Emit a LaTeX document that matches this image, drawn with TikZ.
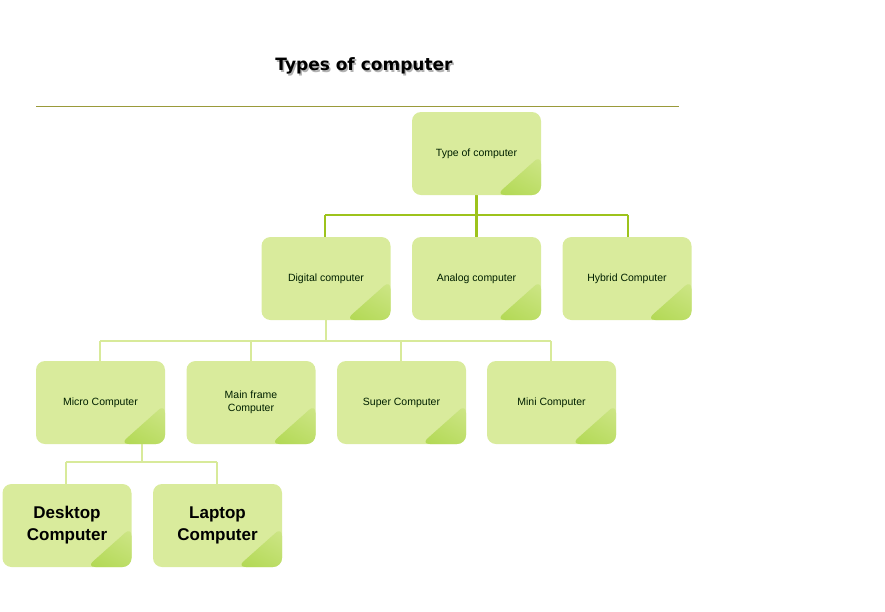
\documentclass[tikz,border=0pt]{standalone}
\usepackage{fontspec}
\setmainfont{Liberation Sans}
\newfontfamily\titlefont{DejaVu Sans}
\definecolor{boxfill}{HTML}{D9EB9C}
\definecolor{boxdark}{HTML}{A4D23A}
\definecolor{busdark}{HTML}{9DC31C}
\definecolor{buslight}{HTML}{D8EA9A}
\definecolor{rulecol}{HTML}{9A9A3A}
\begin{document}
\begin{tikzpicture}[x=1pt,y=-1pt,
  gbox/.style={rounded corners=9pt, fill=boxfill, minimum width=129pt, minimum height=83pt, align=center, inner sep=2pt, text=black!80!green!60!black,
    path picture={\shade[top color=boxfill, bottom color=boxdark, shading angle=-30]
      ([xshift=-45pt]path picture bounding box.south east) -- ([yshift=40pt]path picture bounding box.south east) -- (path picture bounding box.south east) -- cycle;
      \fill[boxfill,opacity=0.6] ([xshift=-45pt]path picture bounding box.south east) -- ([xshift=-20pt,yshift=40pt]path picture bounding box.south east) -- ([yshift=40pt]path picture bounding box.south east) -- cycle;}},
  small/.style={font=\fontsize{10.5}{13}\selectfont},
  big/.style={font=\fontsize{17}{22}\selectfont\bfseries, text=black},
  dbus/.style={draw=busdark, line width=2.5pt},
  lbus/.style={draw=buslight, line width=2.5pt}]
\useasboundingbox (0,0) rectangle (885,611);
\node[font=\titlefont\bfseries\fontsize{17}{20}\selectfont, text=gray!60] at (365.5,67.5) {Types of computer};
\node[font=\titlefont\bfseries\fontsize{17}{20}\selectfont] (title) at (364,66) {Types of computer};
\draw[rulecol, line width=0.8pt] (36,106) -- (679,106);
% connectors
\coordinate (b1l) at (325,215); \coordinate (b1r) at (628,215); \coordinate (b1m) at (476.5,215);
\coordinate (b2l) at (100,341); \coordinate (b2r) at (551,341); \coordinate (b2m) at (326,341);
\coordinate (b3l) at (66,462); \coordinate (b3r) at (217,462); \coordinate (b3m) at (142,462);
\draw[dbus] (476.5,190) -- (b1m);
\draw[dbus] (b1l) -- (b1r);
\draw[dbus] (b1l) -- (325,240); \draw[dbus] (b1m) -- (476.5,240); \draw[dbus] (b1r) -- (628,240);
\draw[lbus] (326,315) -- (b2m);
\draw[lbus] (b2l) -- (b2r);
\foreach \x in {100,251,401,551} \draw[lbus] (\x,341) -- (\x,365);
\draw[lbus] (142,440) -- (b3m);
\draw[lbus] (b3l) -- (b3r);
\foreach \x in {66,217} \draw[lbus] (\x,462) -- (\x,488);
% boxes
\node[gbox,small] (type) at (476.5,153.5) {Type of computer};
\node[gbox,small] (dig) at (326,278.5) {Digital computer};
\node[gbox,small] (ana) at (476.5,278.5) {Analog computer};
\node[gbox,small] (hyb) at (627,278.5) {Hybrid Computer};
\node[gbox,small] (mic) at (100.5,402.5) {Micro Computer};
\node[gbox,small] (mai) at (251,402.5) {Main frame\\Computer};
\node[gbox,small] (sup) at (401.5,402.5) {Super Computer};
\node[gbox,small] (min) at (551.5,402.5) {Mini Computer};
\node[gbox,big] (des) at (67,525.5) {Desktop\\Computer};
\node[gbox,big] (lap) at (217.5,525.5) {Laptop\\Computer};
\end{tikzpicture}
\end{document}
